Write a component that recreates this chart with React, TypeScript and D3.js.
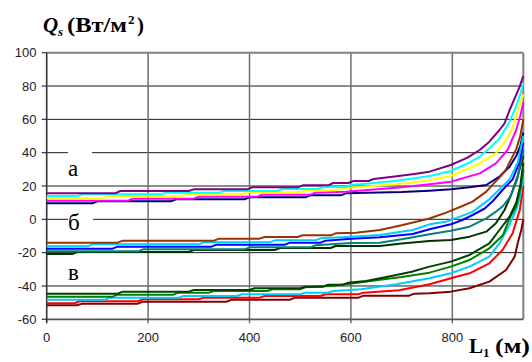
import React from "react";
import * as d3 from "d3";

// ---- Data (x in m, y in W/m²) ----
const xTicks = [0, 200, 400, 600, 800];
const yTicks = [-60, -40, -20, 0, 20, 40, 60, 80, 100];
const xTickLabels = ["0", "200", "400", "600", "800"];
const yTickLabels = ["-60", "-40", "-20", "0", "20", "40", "60", "80", "100"];
const groupLabels = ["а", "б", "в"];
const groupLabelY = [30, -2, -32];

// group а
const aPurple: [number, number][] = [[0,15.6],[135,15.6],[145,17],[280,17],[290,18],[395,18],[405,19.2],[495,19.2],[505,20.4],[555,20.4],[565,21.8],[595,21.8],[605,23],[635,23],[645,24.2],[690,25.8],[725,27.2],[755,28.6],[797,32.6],[830,37],[854,41.6],[873,46.6],[893,53.6],[903,57.6],[913,65.6],[923,72.6],[932,79],[940,86]];
const aCyan: [number, number][] = [[0,14],[60,14],[70,15],[225,15],[235,16],[340,16],[350,17],[455,17],[465,18.2],[535,18.2],[545,19.4],[590,19.4],[600,20.6],[640,21.6],[690,23.2],[725,24.6],[755,26],[797,29],[830,33.5],[854,37.6],[873,42.6],[893,48.6],[913,58.6],[926,68],[934,75],[940,82]];
const aYellow: [number, number][] = [[0,12.6],[110,12.6],[120,13.8],[265,13.8],[275,15],[385,15],[395,16.2],[500,16.2],[510,17.4],[570,17.4],[580,18.6],[620,19.4],[670,20.6],[720,22],[755,23.5],[797,26],[820,29],[854,33.6],[886,39.6],[906,47.6],[919,55],[930,66],[940,75]];
const aMagenta: [number, number][] = [[0,11.2],[160,11.2],[170,12.4],[290,12.4],[300,13.6],[415,13.6],[425,14.8],[520,14.8],[530,16],[590,16.6],[640,17.8],[700,19.2],[755,21],[797,22.6],[854,27.6],[886,33.6],[909,41.6],[926,53.6],[934,62],[940,70]];
const aNavy: [number, number][] = [[0,9.6],[90,9.6],[100,10.8],[245,10.8],[255,12],[390,12],[400,13.2],[510,13.2],[520,14.4],[580,14.4],[590,15.6],[700,16.4],[755,17.2],[797,18],[834,19.2],[867,20.6],[893,25.6],[913,31.6],[926,38],[934,44],[940,52]];

// group б
const bBrown: [number, number][] = [[0,-14],[140,-14],[150,-12.8],[330,-12.8],[340,-11.6],[420,-11.6],[430,-10.6],[495,-10.6],[505,-9.6],[560,-9.6],[570,-8.4],[610,-8],[657,-6.4],[700,-3.5],[755,0.5],[788,4],[820,8],[840,10.6],[867,16.6],[880,21],[893,25],[906,30],[916,36],[926,42],[934,50],[940,60]];
const bCyan: [number, number][] = [[0,-16.2],[80,-16.2],[90,-15],[300,-15],[310,-13.8],[440,-13.8],[450,-12.6],[530,-12.6],[540,-11.4],[590,-10.6],[657,-9.4],[722,-6.4],[755,-3],[788,-1.4],[840,4.5],[873,12],[893,18],[913,24],[929,34],[940,50]];
const bBlue: [number, number][] = [[0,-17.6],[130,-17.6],[140,-16.4],[325,-16.4],[335,-15.2],[470,-15.2],[480,-14],[540,-14],[550,-12.8],[600,-11.6],[657,-10.8],[722,-8.8],[755,-6],[797,-3],[820,-0.4],[840,2.6],[864,6.5],[880,11],[899,17.6],[919,24],[932,34],[940,46]];
const bTeal: [number, number][] = [[0,-19.2],[180,-19.2],[190,-18],[390,-18],[400,-16.8],[520,-16.8],[530,-15.6],[600,-14.2],[657,-14],[700,-12],[755,-9],[797,-6.8],[834,-4.4],[867,0.6],[886,4.6],[900,8],[915,14],[928,24],[940,42]];
const bDkGreen: [number, number][] = [[0,-20.8],[50,-20.8],[60,-19.6],[280,-19.6],[290,-18.4],[450,-18.4],[460,-17.2],[560,-17.2],[570,-16],[657,-16],[700,-14.5],[755,-13],[797,-12.4],[834,-10.4],[867,-7.4],[886,-2.4],[903,5.6],[915,14],[928,25],[940,38]];

// group в
const cDkGreen: [number, number][] = [[0,-44.6],[140,-44.6],[150,-43.4],[280,-43.4],[290,-42.4],[400,-42.4],[410,-41.4],[500,-41.4],[510,-40.4],[545,-40.4],[555,-39.2],[585,-39.2],[595,-38],[630,-37],[680,-34],[720,-31.5],[755,-28.4],[797,-25.4],[834,-21.4],[873,-14.4],[893,-6.4],[913,1.6],[926,10],[934,20],[940,34]];
const cGreen: [number, number][] = [[0,-46.4],[130,-46.4],[140,-45.2],[250,-45.2],[260,-44],[320,-44],[330,-43],[435,-43],[445,-42],[500,-42],[510,-40.8],[560,-40],[598,-38.6],[650,-36.6],[700,-34.6],[755,-32],[797,-28.4],[834,-24.4],[873,-17.4],[900,-9.4],[913,0.6],[926,8],[934,18],[940,30]];
const cCyan: [number, number][] = [[0,-48.2],[115,-48.2],[125,-47],[260,-47],[270,-46],[375,-46],[385,-45],[500,-45],[510,-44],[555,-44],[565,-43],[620,-42],[690,-39],[755,-35.4],[797,-32.4],[834,-28.4],[873,-22.4],[893,-14.4],[911,-4.4],[926,5.6],[934,14],[940,26]];
const cRed: [number, number][] = [[0,-50.4],[55,-50.4],[65,-49.2],[180,-49.2],[190,-48],[300,-48],[310,-47],[420,-47],[430,-46],[540,-46],[550,-45],[615,-45],[625,-44],[695,-42.6],[755,-39],[797,-35.4],[834,-32.4],[873,-26.4],[899,-18.4],[919,-8.4],[929,1.6],[933,5.6],[940,20]];
const cDkRed: [number, number][] = [[0,-51.6],[60,-51.6],[70,-50.6],[180,-50.6],[190,-49.4],[355,-49.4],[365,-48.2],[480,-48.2],[490,-47],[615,-47],[625,-45.8],[715,-45.8],[725,-44.6],[755,-44.4],[797,-43.4],[834,-41.4],[873,-37.4],[906,-30.4],[923,-22.4],[929,-14.4],[936,-6.4],[940,0]];

const seriesData = [aNavy, aMagenta, aYellow, aCyan, aPurple, bDkGreen, bTeal, bBlue, bCyan, bBrown, cDkRed, cRed, cCyan, cGreen, cDkGreen];
const seriesColors = ["#000080", "#FF00FF", "#FFFF00", "#00FFFF", "#800080", "#003300", "#008080", "#0000FF", "#00CCFF", "#993300", "#800000", "#FF0000", "#00CCFF", "#008000", "#004000"];

const W = 532, H = 362;
const L = 46.7, R = 523.3, T = 52.7, B = 319.3;

export default function App() {
  const x = d3.scaleLinear().domain([0, 940]).range([L, R]);
  const y = d3.scaleLinear().domain([-60, 100]).range([B, T]);
  const line = d3.line<[number, number]>().x(d => x(d[0])).y(d => y(d[1]));
  const serif = "'Liberation Serif', 'Times New Roman', serif";
  const sans = "'Liberation Sans', Arial, sans-serif";

  return (
    <div style={{ position: "absolute", left: 0, top: 0 }}>
      <svg width={W} height={H} style={{ display: "block", background: "#fff" }}>
        {/* horizontal gridlines */}
        {yTicks.filter(t => t > -60 && t < 100).map(t => (
          <line key={"hg" + t} x1={L} x2={R} y1={y(t)} y2={y(t)} stroke="#1a1a1a" strokeWidth={1} />
        ))}
        {/* vertical gridlines */}
        {xTicks.filter(t => t > 0).map(t => (
          <line key={"vg" + t} x1={x(t)} x2={x(t)} y1={T} y2={B + 4} stroke="#6e6e6e" strokeWidth={1.5} />
        ))}
        {/* white patches behind labels а, б */}
        <rect x={68} y={y(40) - 4} width={24} height={8} fill="#fff" />
        <rect x={68} y={y(0) - 4} width={25} height={8} fill="#fff" />
        {/* border */}
        <line x1={L} x2={R} y1={T} y2={T} stroke="#808080" strokeWidth={2} />
        <line x1={R} x2={R} y1={T} y2={B} stroke="#808080" strokeWidth={2} />
        <line x1={L} x2={R} y1={B} y2={B} stroke="#555" strokeWidth={1.8} />
        <line x1={L} x2={L} y1={T} y2={B + 4} stroke="#333" strokeWidth={1.6} />
        {/* y ticks */}
        {yTicks.map((t, i) => (
          <g key={"yt" + t}>
            <line x1={L - 5} x2={L} y1={y(t)} y2={y(t)} stroke="#333" strokeWidth={1.2} />
            <text x={36.5} y={y(t)} dy="0.35em" textAnchor="end" fontFamily={sans} fontSize={13} fill="#222">{yTickLabels[i]}</text>
          </g>
        ))}
        {/* x tick labels */}
        {xTicks.map((t, i) => (
          <text key={"xt" + t} x={x(t)} y={342} textAnchor="middle" fontFamily={sans} fontSize={13} fill="#222">{xTickLabels[i]}</text>
        ))}
        {/* series */}
        {seriesData.map((d, i) => (
          <path key={"s" + i} d={line(d) || ""} fill="none" stroke={seriesColors[i]} strokeWidth={2} strokeLinejoin="round" />
        ))}
        {/* group labels */}
        {groupLabels.map((g, i) => (
          <text key={"gl" + i} x={68} y={y(groupLabelY[i]) + 7} fontFamily={serif} fontSize={23} fill="#000">{g}</text>
        ))}
        {/* title */}
        <g fontFamily={serif} fontWeight="bold" fill="#000">
          <text x={43} y={32} fontSize={21} fontStyle="italic">Q</text>
          <text x={58} y={36} fontSize={13} fontStyle="italic">s</text>
          <text x={67} y={32} fontSize={21} textLength={60} lengthAdjust="spacingAndGlyphs">(Вт/м</text>
          <text x={128} y={24} fontSize={13}>2</text>
          <text x={137} y={32} fontSize={21}>)</text>
        </g>
        {/* x axis title */}
        <g fontFamily={serif} fontWeight="bold" fill="#000">
          <text x={469} y={353} fontSize={21}>L</text>
          <text x={483} y={357} fontSize={13}>1</text>
          <text x={495} y={353} fontSize={21} textLength={35} lengthAdjust="spacingAndGlyphs">(м)</text>
        </g>
      </svg>
    </div>
  );
}
